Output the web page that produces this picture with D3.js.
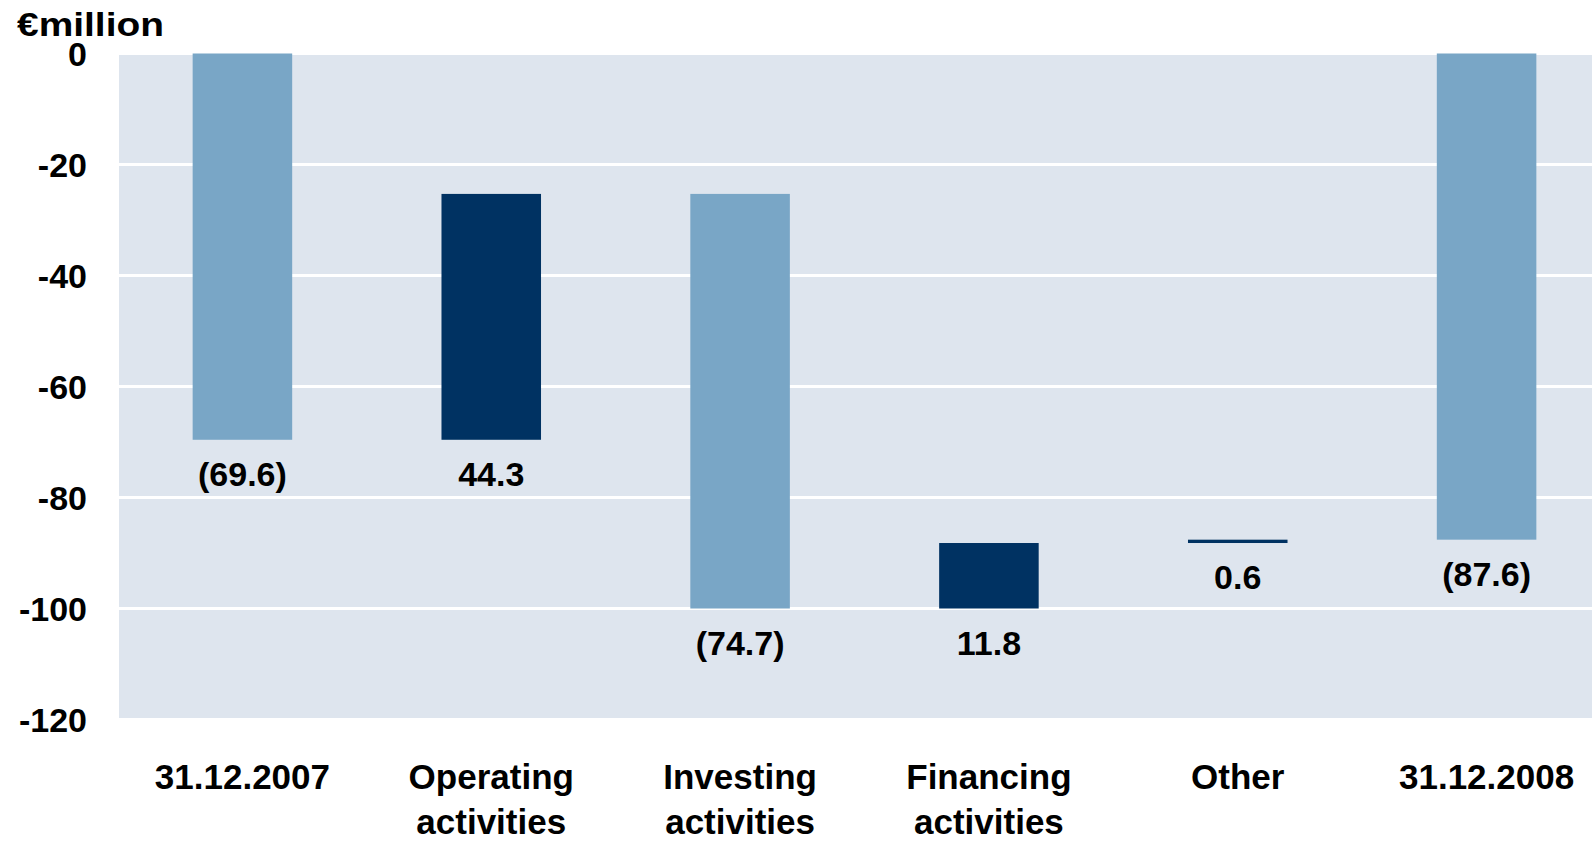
<!DOCTYPE html>
<html>
<head>
<meta charset="utf-8">
<script src="https://cdn.jsdelivr.net/npm/d3@7"></script>
<style>
  html, body { margin: 0; padding: 0; background: #ffffff; }
  svg { display: block; }
  text { font-family: "Liberation Sans", Arial, sans-serif; font-weight: bold; fill: #000; }
</style>
</head>
<body>
<svg id="chart" width="1592" height="841"></svg>
<script>
// ---- data ----
const categories = [
  ["31.12.2007"],
  ["Operating", "activities"],
  ["Investing", "activities"],
  ["Financing", "activities"],
  ["Other"],
  ["31.12.2008"]
];
const values = [-69.6, 44.3, -74.7, 11.8, 0.6, -87.6];
const kinds = ["total", "delta", "delta", "delta", "delta", "total"];
const yTicks = [0, -20, -40, -60, -80, -100, -120];
const unitLabel = "€million";

// ---- layout ----
const W = 1592, H = 841;
const svg = d3.select("#chart");

const x = d3.scaleBand()
  .domain(d3.range(categories.length))
  .range([118, 1611])
  .paddingInner(0.6)
  .paddingOuter(0.3);

const y = d3.scaleLinear().domain([0, -120]).range([53.5, 719.5]);

// waterfall extents
let running = 0;
const bars = values.map((v, i) => {
  let a, b;
  if (kinds[i] === "total") { a = 0; b = v; running = v; }
  else { a = running; b = running + v; running = b; }
  return { i, v, lo: Math.min(a, b), hi: Math.max(a, b), kind: kinds[i] };
});

const colorNeg = "#79A6C6", colorPos = "#003262";

// background
svg.append("rect")
  .attr("x", 119).attr("y", y(0))
  .attr("width", W - 119).attr("height", y(-120) - y(0))
  .attr("fill", "#DEE5EE");

// gridlines
svg.append("g").selectAll("line").data(yTicks).join("line")
  .attr("x1", 119).attr("x2", W)
  .attr("y1", d => y(d)).attr("y2", d => y(d))
  .attr("stroke", "#ffffff").attr("stroke-width", 3);

// bars
svg.append("g").selectAll("rect").data(bars).join("rect")
  .attr("x", d => x(d.i))
  .attr("width", x.bandwidth())
  .attr("y", d => y(d.hi))
  .attr("height", d => Math.max(y(d.lo) - y(d.hi), 1))
  .attr("fill", d => d.v < 0 ? colorNeg : colorPos);

// value labels
const fmt = v => v < 0 ? "(" + d3.format(".1f")(-v) + ")" : d3.format(".1f")(v);
svg.append("g").selectAll("text").data(bars).join("text")
  .attr("x", d => x(d.i) + x.bandwidth() / 2)
  .attr("y", d => y(d.lo) + 46)
  .attr("text-anchor", "middle")
  .attr("font-size", 34)
  .text(d => fmt(d.v));

// y axis labels
const yAxis = d3.axisLeft(y).tickValues(yTicks).tickSize(0).tickPadding(0)
  .tickFormat(d => String(d));
const gy = svg.append("g").attr("transform", "translate(87,0)").call(yAxis);
gy.select(".domain").remove();
gy.selectAll("text")
  .attr("font-size", 34)
  .attr("font-family", "'Liberation Sans', Arial, sans-serif")
  .attr("font-weight", "bold")
  .attr("fill", "#000")
  .attr("dy", "0.36em");

// x category labels
const xl = svg.append("g").selectAll("text").data(categories).join("text")
  .attr("x", (d, i) => x(i) + x.bandwidth() / 2)
  .attr("y", 789)
  .attr("text-anchor", "middle")
  .attr("font-size", 35);
xl.selectAll("tspan").data(d => d).join("tspan")
  .attr("x", function () { return d3.select(this.parentNode).attr("x"); })
  .attr("dy", (d, j) => j === 0 ? 0 : 45)
  .text(d => d);

// unit label
svg.append("text")
  .attr("x", 17).attr("y", 36)
  .attr("font-size", 34)
  .attr("textLength", 147)
  .attr("lengthAdjust", "spacingAndGlyphs")
  .text(unitLabel);
</script>
</body>
</html>
